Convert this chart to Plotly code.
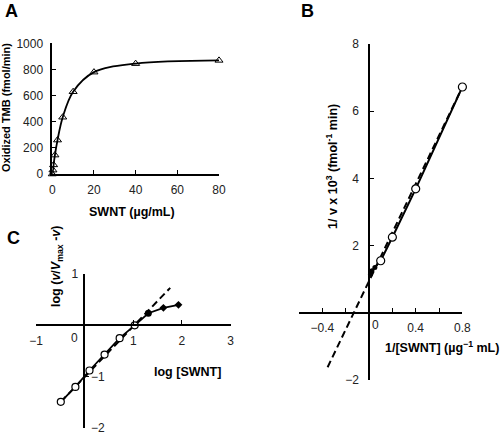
import plotly.graph_objects as go

# ---------------- data ----------------
# Panel A: saturation curve
a_conc = [0, 0.3125, 0.625, 1.25, 2.5, 5, 10, 20, 40, 80]
a_rate = [0, 30, 70, 145, 260, 435, 630, 780, 845, 870]
a_xticks = [0, 20, 40, 60, 80]
a_yticks = [0, 200, 400, 600, 800, 1000]

# Panel B: Lineweaver-Burk
b_inv_conc = [0.0125, 0.025, 0.05, 0.1, 0.2, 0.4, 0.8]
b_inv_rate = [1.15, 1.25, 1.35, 1.55, 2.25, 3.69, 6.72]
b_open_from = 3  # index where open circles start
b_fit_x = [-0.355, 0.88]
b_fit_y = [-1.62, 7.30]
b_xticks = [-0.4, 0.4, 0.8]
b_xlabels = ["\u22120.4", "0.4", "0.8"]
b_yticks = [-2, 2, 4, 6, 8]
b_ylabels = ["\u22122", "2", "4", "6", "8"]

# Panel C: Hill plot
c_open_x = [-0.49, -0.19, 0.10, 0.41, 0.72, 1.03]
c_open_y = [-1.49, -1.20, -0.88, -0.57, -0.25, 0.0]
c_fill_x = [1.31]
c_fill_y = [0.235]
c_diam_x = [1.62, 1.93]
c_diam_y = [0.34, 0.40]
c_fit_x = [-0.49, 1.76]
c_fit_y = [-1.49, 0.73]
c_xticks = [-1, 1, 2, 3]
c_xlabels = ["\u22121", "1", "2", "3"]
c_yticks = [1]
c_ylabels = ["1"]

FONT = "Arial, Liberation Sans, sans-serif"
BLACK = "#000000"
TICKC = "#222222"

fig = go.Figure()

# ---- Panel A ----
fig.add_trace(go.Scatter(x=a_conc, y=a_rate, mode="lines", line=dict(color=BLACK, width=1.8, shape="spline", smoothing=1.0),
                         xaxis="x", yaxis="y", cliponaxis=False, hoverinfo="skip"))
fig.add_trace(go.Scatter(x=a_conc, y=a_rate, mode="markers",
                         marker=dict(symbol="triangle-up-open", size=7, color=BLACK, line=dict(width=1, color=BLACK)),
                         xaxis="x", yaxis="y", cliponaxis=False))

# ---- Panel B ----
fig.add_trace(go.Scatter(x=b_fit_x, y=b_fit_y, mode="lines", line=dict(color=BLACK, width=2, dash="7px,4px"),
                         xaxis="x2", yaxis="y2", cliponaxis=False))
fig.add_trace(go.Scatter(x=b_inv_conc, y=b_inv_rate, mode="lines", line=dict(color=BLACK, width=2),
                         xaxis="x2", yaxis="y2", cliponaxis=False))
fig.add_trace(go.Scatter(x=b_inv_conc[:b_open_from], y=b_inv_rate[:b_open_from], mode="markers",
                         marker=dict(symbol="circle", size=5, color=BLACK),
                         xaxis="x2", yaxis="y2", cliponaxis=False))
fig.add_trace(go.Scatter(x=b_inv_conc[b_open_from:], y=b_inv_rate[b_open_from:], mode="markers",
                         marker=dict(symbol="circle", size=8, color="white", line=dict(width=1.2, color=BLACK)),
                         xaxis="x2", yaxis="y2", cliponaxis=False))

# ---- Panel C ----
fig.add_trace(go.Scatter(x=c_fit_x, y=c_fit_y, mode="lines", line=dict(color=BLACK, width=2, dash="7px,4px"),
                         xaxis="x3", yaxis="y3", cliponaxis=False))
fig.add_trace(go.Scatter(x=c_open_x + c_fill_x + c_diam_x, y=c_open_y + c_fill_y + c_diam_y, mode="lines",
                         line=dict(color=BLACK, width=1.8), xaxis="x3", yaxis="y3", cliponaxis=False))
fig.add_trace(go.Scatter(x=c_diam_x, y=c_diam_y, mode="markers",
                         marker=dict(symbol="diamond", size=6, color=BLACK),
                         xaxis="x3", yaxis="y3", cliponaxis=False))
fig.add_trace(go.Scatter(x=c_fill_x, y=c_fill_y, mode="markers",
                         marker=dict(symbol="circle", size=7, color=BLACK),
                         xaxis="x3", yaxis="y3", cliponaxis=False))
fig.add_trace(go.Scatter(x=c_open_x, y=c_open_y, mode="markers",
                         marker=dict(symbol="circle", size=7, color="white", line=dict(width=1.2, color=BLACK)),
                         xaxis="x3", yaxis="y3", cliponaxis=False))

axis_common = dict(showline=True, linecolor=BLACK, linewidth=1.5, ticks="inside", ticklen=4, tickwidth=1.2,
                   tickcolor=BLACK, showgrid=False, zeroline=False, tickfont=dict(family=FONT, size=12, color=TICKC),
                   fixedrange=True, automargin=False)
minor_common = dict(ticks="inside", ticklen=4, tickwidth=1.2, tickcolor=BLACK, showgrid=False)

fig.update_layout(
    width=500, height=434,
    margin=dict(l=0, r=0, t=0, b=0, pad=0, autoexpand=False),
    paper_bgcolor="white", plot_bgcolor="rgba(0,0,0,0)",
    showlegend=False,
    font=dict(family=FONT, color=BLACK),
    xaxis=dict(axis_common, domain=[0.1046, 0.438], range=[0, 80], anchor="y", tickvals=a_xticks,
               ticklabelstandoff=4),
    yaxis=dict(axis_common, domain=[0.599, 0.900], range=[0, 1000], anchor="x", tickvals=a_yticks,
               ticklabelstandoff=5),
    xaxis2=dict(axis_common, domain=[0.598, 0.9248], range=[-0.6, 0.8], anchor="free", position=0.2788,
                tickvals=b_xticks, ticktext=b_xlabels, ticklabelstandoff=4,
                minor=dict(minor_common, tick0=-0.6, dtick=0.2)),
    yaxis2=dict(axis_common, domain=[0.1244, 0.8986], range=[-2, 8], anchor="free", position=0.738,
                tickvals=b_yticks, ticktext=b_ylabels, ticklabelstandoff=7),
    xaxis3=dict(axis_common, domain=[0.072, 0.461], range=[-1, 3], anchor="free", position=0.2512,
                tickvals=c_xticks, ticktext=c_xlabels, ticklabelstandoff=5),
    yaxis3=dict(axis_common, domain=[0.0138, 0.3687], range=[-2, 1], anchor="free", position=0.1686,
                tickvals=c_yticks, ticktext=c_ylabels, ticklabelstandoff=3,
                minor=dict(minor_common, tick0=-2, dtick=1)),
)

tf = dict(family=FONT, size=12, color=TICKC)
C = dict(xanchor="center", yanchor="middle", showarrow=False)
ann = [
    # panel letters
    dict(C, text="<b>A</b>", x=11 / 500, y=1 - 11 / 434, xref="paper", yref="paper",
         font=dict(family=FONT, size=18, color=BLACK)),
    dict(C, text="<b>B</b>", x=307 / 500, y=1 - 11 / 434, xref="paper", yref="paper",
         font=dict(family=FONT, size=18, color=BLACK)),
    dict(C, text="<b>C</b>", x=13 / 500, y=1 - 238 / 434, xref="paper", yref="paper",
         font=dict(family=FONT, size=18, color=BLACK)),
    # axis titles
    dict(C, text="<b>Oxidized TMB (fmol/min)</b>", x=6 / 500, y=1 - 108 / 434, xref="paper", yref="paper",
         textangle=-90, font=dict(family=FONT, size=11, color=BLACK)),
    dict(C, text="<b>SWNT (µg/mL)</b>", x=132 / 500, y=1 - 212 / 434, xref="paper", yref="paper",
         font=dict(family=FONT, size=12.5, color=BLACK)),
    dict(C, text="<b>1/ v x 10<sup>3</sup> (fmol<sup>-1</sup> min)</b>", x=332 / 500, y=1 - 167 / 434,
         xref="paper", yref="paper", textangle=-90, font=dict(family=FONT, size=12.5, color=BLACK)),
    dict(C, text="<b>1/[SWNT] (µg<sup>\u22121</sup> mL)</b>", x=442 / 500, y=1 - 347 / 434, xref="paper",
         yref="paper", font=dict(family=FONT, size=12.5, color=BLACK)),
    dict(C, text="<b>log (<i>v</i>/<i>V</i><sub>max</sub> -<i>v</i>)</b>", x=57 / 500, y=1 - 267 / 434,
         xref="paper", yref="paper", textangle=-90, font=dict(family=FONT, size=12.5, color=BLACK)),
    dict(C, text="<b>log [SWNT]</b>", x=187 / 500, y=1 - 372 / 434, xref="paper", yref="paper",
         font=dict(family=FONT, size=12.5, color=BLACK)),
    # offset zero labels and right-side labels
    dict(C, text="0", x=0, y=0, xref="x2", yref="y2", xshift=6, yshift=-12, font=tf),
    dict(C, text="0", x=0, y=0, xref="x3", yref="y3", xshift=-10, yshift=-13, font=tf),
    dict(text="\u22121", x=0, y=-1, xref="x3", yref="y3", xanchor="left", yanchor="middle", xshift=4,
         showarrow=False, font=tf),
    dict(text="\u22122", x=0, y=-2, xref="x3", yref="y3", xanchor="left", yanchor="middle", xshift=4,
         showarrow=False, font=tf),
]
fig.update_layout(annotations=ann)

fig.write_html("out.html", config={"displayModeBar": False},
               post_script="document.body.style.margin='0px';")
